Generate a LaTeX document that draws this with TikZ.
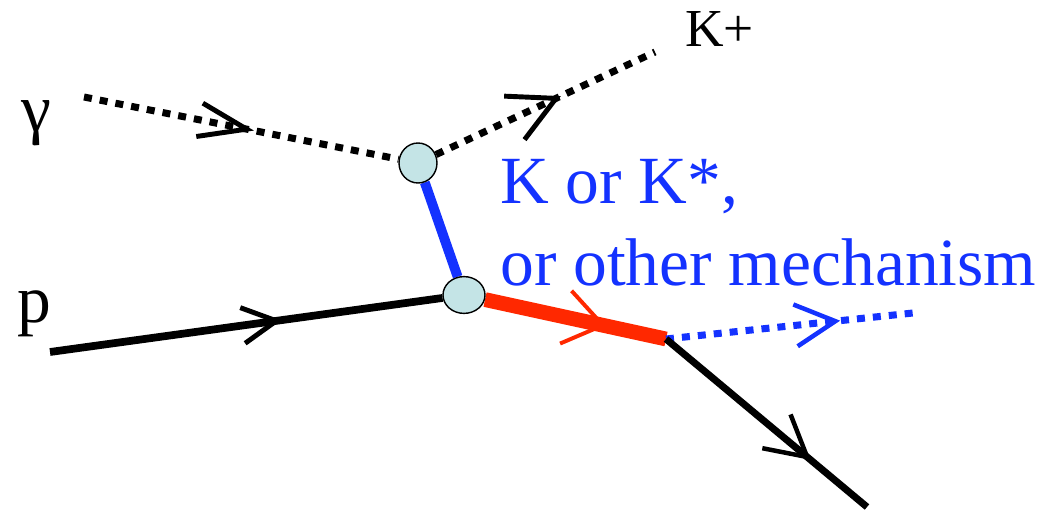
\documentclass[tikz,border=0pt]{standalone}
\usepackage{fontspec}
\setmainfont{Liberation Serif}
\usetikzlibrary{arrows.meta, decorations.markings, shapes.geometric, backgrounds}
\definecolor{cBlue}{RGB}{20,50,255}
\definecolor{cRed}{RGB}{255,40,0}
\definecolor{cVertex}{RGB}{196,228,230}
\tikzset{
	vertex/.style   ={ellipse, draw=black, line width=1pt, fill=cVertex, inner sep=0pt},
	scalar/.style   ={line width=5pt, dash pattern=on 0.2cm off 0.2cm},
	fermion/.style  ={line width=5.5pt},
	exch/.style     ={line width=7pt, cBlue},
	heavy/.style    ={line width=10.5pt, cRed},
	midarrow/.style 2 args={postaction={decorate}, decoration={markings, mark=at position #1 with {\arrow{#2}}}},
	bigfont/.style  ={font=\fontsize{48}{58}\selectfont},
}

\begin{document}
\begin{tikzpicture}
	\useasboundingbox (0,0) rectangle (26.025,12.775);
	% vertices
	\node[vertex, minimum width=0.95cm, minimum height=1.0cm] (top) at (10.45,8.7) {};
	\node[vertex, minimum width=1.05cm, minimum height=0.92cm] (bot) at (11.6,5.4) {};
	% free ends
	\coordinate (gin) at (2.1,10.35);
	\coordinate (kout) at (16.375,11.475);
	\coordinate (pin) at (1.25,3.975);
	\coordinate (split) at (16.65,4.3);
	\coordinate (yout) at (22.825,4.95);
	\coordinate (pout) at (21.675,0.1);
	% lines
	\begin{scope}[on background layer]
		\draw[scalar, midarrow={0.54}{Straight Barb[length=1.2cm, width=0.85cm, line width=3.5pt]}] (gin) -- (top);
		\draw[scalar, midarrow={0.57}{Straight Barb[length=1.15cm, width=1.2cm, line width=3.5pt]}] (top) -- (kout);
		\draw[exch] (top) -- (bot);
		\draw[fermion, midarrow={0.59}{Straight Barb[length=0.85cm, width=0.9cm, line width=3.5pt]}] (pin) -- (bot);
		\draw[heavy, midarrow={0.67}{Straight Barb[length=0.95cm, width=1.35cm, line width=2.8pt]}] (bot) -- (split);
		\draw[scalar, cBlue, midarrow={0.705}{Straight Barb[length=1.0cm, width=1.05cm, line width=3.2pt]}] (split) -- (yout);
		\draw[line width=5pt, midarrow={0.72}{Straight Barb[length=1.0cm, width=1.1cm, line width=3.2pt]}] (split) -- (pout);
	\end{scope}
	% labels
	\node[bigfont] (glab) at (0.9,9.7) {γ};
	\node[bigfont, anchor=base west, inner sep=0pt] (plab) at (0.425,4.725) {p};
	\node[font=\fontsize{38}{45}\selectfont, anchor=base west, inner sep=0pt] (klab) at (17.125,11.6) {K+};
	\node[bigfont, text=cBlue, align=left, anchor=base west, inner sep=0pt] (mech) at (12.5,5.65) {K or K*,\\or other mechanism};
\end{tikzpicture}
\end{document}
